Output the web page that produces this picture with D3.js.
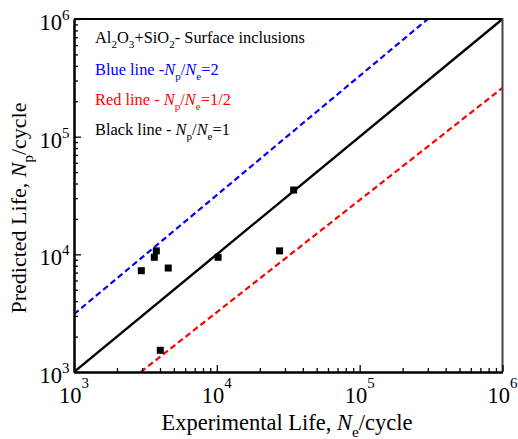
<!DOCTYPE html>
<html>
<head>
<meta charset="utf-8">
<script src="https://cdn.jsdelivr.net/npm/d3@7"></script>
<style>
  body { margin: 0; background: #fff; }
  svg { display: block; }
</style>
</head>
<body>
<svg id="chart" width="518" height="439" font-family="'Liberation Serif', 'DejaVu Serif', Times, serif"></svg>
<script>
// Measured fatigue lives (cycles): experimental vs predicted
const experimentalLife = [2960, 3650, 3770, 4570, 10200, 27500, 34500, 4020];
const predictedLife    = [7260, 9440, 10700, 7650, 9440, 10700, 35200, 1530];

// Decade exponents used for major ticks on both axes
const decadeExponents = [3, 4, 5, 6];

// Reference lines, each given by two end points [experimental, predicted]
const blackLinePts = [[1e3, 1e3], [1e6, 1e6]];
const blueLinePts  = [[1e3, 3.1e3], [3.0e5, 1e6]];
const redLinePts   = [[2.93e3, 1e3], [1e6, 2.6e5]];

const FONT = "'Liberation Serif', 'DejaVu Serif', Times, serif";
const svg = d3.select("#chart");
const W = 518, H = 439;
const m = { left: 74, right: 15.5, top: 19, bottom: 67 };
const iw = W - m.left - m.right, ih = H - m.top - m.bottom;

const x = d3.scaleLog().domain([1e3, 1e6]).range([m.left, m.left + iw]);
const y = d3.scaleLog().domain([1e3, 1e6]).range([m.top + ih, m.top]);

const majors = decadeExponents.map(e => Math.pow(10, e));
const minors = [];
for (let e = 3; e < 6; e++) for (let k = 2; k <= 9; k++) minors.push(k * Math.pow(10, e));

svg.append("rect").attr("width", W).attr("height", H).attr("fill", "#fff");

// Clip region for the data lines
svg.append("clipPath").attr("id", "plotClip")
  .append("rect").attr("x", m.left).attr("y", m.top).attr("width", iw).attr("height", ih);

const line = d3.line().x(d => x(d[0])).y(d => y(d[1]));
const lines = svg.append("g").attr("clip-path", "url(#plotClip)");
lines.append("path").datum(blueLinePts).attr("d", line)
  .attr("fill", "none").attr("stroke", "#0000ff").attr("stroke-width", 2.2)
  .attr("stroke-dasharray", "6,3.5");
lines.append("path").datum(redLinePts).attr("d", line)
  .attr("fill", "none").attr("stroke", "#ff0000").attr("stroke-width", 2.2)
  .attr("stroke-dasharray", "6,3.5");
lines.append("path").datum(blackLinePts).attr("d", line)
  .attr("fill", "none").attr("stroke", "#000").attr("stroke-width", 2.4);

// Top and right frame
svg.append("line").attr("x1", m.left).attr("x2", m.left + iw).attr("y1", m.top).attr("y2", m.top)
  .attr("stroke", "#000").attr("stroke-width", 2);
svg.append("line").attr("x1", m.left + iw).attr("x2", m.left + iw).attr("y1", m.top - 1).attr("y2", m.top + ih)
  .attr("stroke", "#444").attr("stroke-width", 2);

// Axes with inward ticks
function styleAxis(g) {
  g.selectAll("path.domain").attr("stroke", "#000").attr("stroke-width", 2);
  g.selectAll(".tick line").attr("stroke", "#000").attr("stroke-width", 1.3);
}
const xMinor = svg.append("g").attr("transform", `translate(0,${m.top + ih})`)
  .call(d3.axisBottom(x).tickValues(minors).tickSizeInner(-4).tickSizeOuter(0).tickFormat(() => ""));
styleAxis(xMinor);
const xMajor = svg.append("g").attr("transform", `translate(0,${m.top + ih})`)
  .call(d3.axisBottom(x).tickValues(majors).tickSizeInner(-7).tickSizeOuter(0).tickFormat(() => ""));
styleAxis(xMajor);
const yMinor = svg.append("g").attr("transform", `translate(${m.left},0)`)
  .call(d3.axisLeft(y).tickValues(minors).tickSizeInner(-4).tickSizeOuter(0).tickFormat(() => ""));
styleAxis(yMinor);
const yMajor = svg.append("g").attr("transform", `translate(${m.left},0)`)
  .call(d3.axisLeft(y).tickValues(majors).tickSizeInner(-7).tickSizeOuter(0).tickFormat(() => ""));
styleAxis(yMajor);

// Power-of-ten tick labels
const xLab = svg.append("g");
majors.forEach((v, i) => {
  const t = xLab.append("text").attr("x", x(v)).attr("y", 403).attr("font-family", FONT)
    .attr("text-anchor", "middle").attr("font-size", 22.5).attr("fill", "#000");
  t.append("tspan").text("10");
  t.append("tspan").attr("dy", -15).attr("font-size", 15).text(decadeExponents[i]);
});
const yLab = svg.append("g");
majors.forEach((v, i) => {
  const t = yLab.append("text").attr("x", 69.5).attr("y", y(v) + 11).attr("font-family", FONT)
    .attr("text-anchor", "end").attr("font-size", 22.5).attr("fill", "#000");
  t.append("tspan").text("10");
  t.append("tspan").attr("dy", -10).attr("font-size", 15).text(decadeExponents[i]);
});

// Data markers
svg.append("g").selectAll("rect")
  .data(experimentalLife.map((e, i) => [e, predictedLife[i]]))
  .join("rect")
  .attr("x", d => x(d[0]) - 3.5).attr("y", d => y(d[1]) - 3.5)
  .attr("width", 7).attr("height", 7).attr("fill", "#000");

// Text helper: segments of [string, style]; style: "i" italic, "sub" subscript
function richText(g, px, py, size, color, segs, attrs) {
  const t = g.append("text").attr("x", px).attr("y", py).attr("font-family", FONT)
    .attr("font-size", size).attr("fill", color);
  if (attrs) Object.entries(attrs).forEach(([k, v]) => t.attr(k, v));
  let shifted = 0;
  segs.forEach(([s, st]) => {
    const ts = t.append("tspan").text(s);
    const wantShift = st && st.includes("sub") ? Math.round(size * 0.3) : 0;
    if (wantShift !== shifted) { ts.attr("dy", wantShift - shifted); shifted = wantShift; }
    if (st && st.includes("sub")) ts.attr("font-size", size * 0.68);
    if (st && st.includes("i")) ts.attr("font-style", "italic");
  });
  return t;
}

// Legend block
const leg = svg.append("g");
const ls = 16.4;
richText(leg, 95, 43, ls, "#000", [["Al"], ["2", "sub"], ["O"], ["3", "sub"], ["+SiO"], ["2", "sub"], ["- Surface inclusions"]]);
richText(leg, 95, 75, ls, "#0000ff", [["Blue line -"], ["N", "i"], ["p", "sub"], ["/"], ["N", "i"], ["e", "sub"], ["=2"]]);
richText(leg, 95, 105, ls, "#ff0000", [["Red line - "], ["N", "i"], ["p", "sub"], ["/"], ["N", "i"], ["e", "sub"], ["=1/2"]]);
richText(leg, 95, 135, ls, "#000", [["Black line - "], ["N", "i"], ["p", "sub"], ["/"], ["N", "i"], ["e", "sub"], ["=1"]]);

// Axis titles
richText(svg, 287, 430, 22.5, "#000",
  [["Experimental Life, "], ["N", "i"], ["e", "sub"], ["/cycle"]], { "text-anchor": "middle" });
richText(svg, 0, 0, 22, "#000",
  [["Predicted Life, "], ["N", "i"], ["p", "sub"], ["/cycle"]],
  { "text-anchor": "middle", "transform": "translate(26,208) rotate(-90)" });
</script>
</body>
</html>
